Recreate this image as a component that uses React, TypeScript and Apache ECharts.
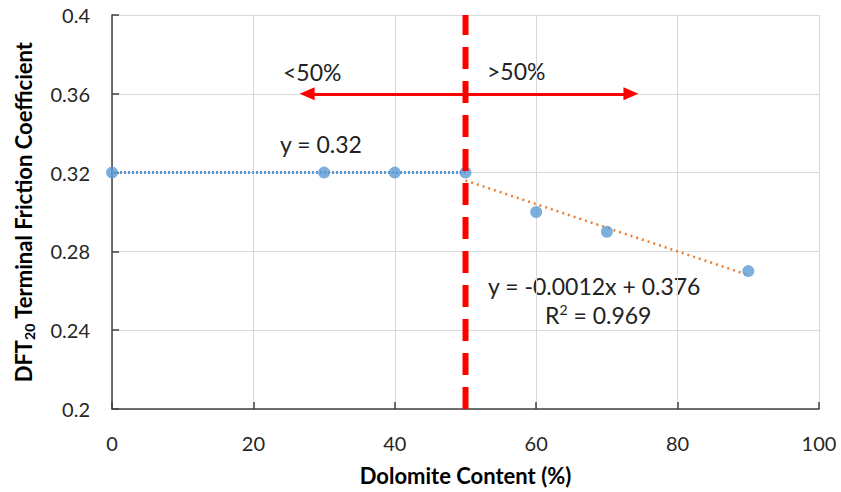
import React, { useEffect, useRef } from "react";
import * as echarts from "echarts";

const xValues = [0, 30, 40, 50, 60, 70, 90];
const yValues = [0.32, 0.32, 0.32, 0.32, 0.3, 0.29, 0.27];
const flatTrend = [[0, 0.32], [50, 0.32]];
const slopeTrend = [[50, 0.316], [90, 0.268]];
const dividerX = 50;
const arrowY = 0.36;
const arrowLeftEnd = 27.6;
const arrowRightEnd = 73.4;

const FONT = "Lato, 'Open Sans', sans-serif";

export default function App() {
  const ref = useRef<HTMLDivElement>(null);
  useEffect(() => {
    if (!ref.current) return;
    const chart = echarts.init(ref.current, null, { renderer: "svg" });
    chart.setOption({
      animation: false,
      backgroundColor: "#ffffff",
      grid: { left: 112, right: 22, top: 15, bottom: 83 },
      xAxis: {
        type: "value",
        min: 0,
        max: 100,
        interval: 20,
        name: "Dolomite Content (%)",
        nameLocation: "middle",
        nameGap: 55,
        nameTextStyle: { fontFamily: FONT, fontSize: 22, fontWeight: "bold", color: "#000" },
        axisLine: { show: true, lineStyle: { color: "#404040", width: 1.5 } },
        axisTick: { show: true, inside: true, length: 7, lineStyle: { color: "#404040", width: 1.5 } },
        axisLabel: { fontFamily: FONT, fontSize: 20, color: "#262626", margin: 24 },
        splitLine: { show: true, lineStyle: { color: "#d9d9d9", width: 1 } },
      },
      yAxis: {
        type: "value",
        min: 0.2,
        max: 0.4,
        interval: 0.04,
        name: "{n|DFT}{s|20}{n| Terminal Friction Coefficient}",
        nameLocation: "middle",
        nameRotate: 90,
        nameGap: 76,
        nameTextStyle: {
          rich: {
            n: { fontFamily: FONT, fontSize: 22, fontWeight: "bold", color: "#000", lineHeight: 26 },
            s: { fontFamily: FONT, fontSize: 14, fontWeight: "bold", color: "#000", lineHeight: 26, verticalAlign: "bottom", padding: [10, 0, 0, 0] },
          },
        },
        axisLine: { show: true, lineStyle: { color: "#404040", width: 1.5 } },
        axisTick: { show: true, inside: true, length: 7, lineStyle: { color: "#404040", width: 1.5 } },
        axisLabel: {
          fontFamily: FONT,
          fontSize: 20,
          color: "#262626",
          margin: 22,
          formatter: (v: number) => String(+v.toFixed(2)),
        },
        splitLine: { show: true, lineStyle: { color: "#d9d9d9", width: 1 } },
      },
      series: [
        {
          type: "line",
          data: flatTrend,
          symbol: "none",
          lineStyle: { color: "#5b9bd5", width: 3, type: [2, 2] },
          z: 3,
        },
        {
          type: "line",
          data: slopeTrend,
          symbol: "none",
          lineStyle: { color: "#ed7d31", width: 2.5, type: [2, 4] },
          z: 3,
        },
        {
          type: "line",
          data: [[dividerX, 0.2], [dividerX, 0.4]],
          symbol: "none",
          lineStyle: { color: "#ff0000", width: 6, type: [22, 12] },
          z: 5,
          markLine: {
            silent: true,
            symbol: ["none", "triangle"],
            symbolSize: [13, 15],
            label: { show: false },
            lineStyle: { color: "#ff0000", width: 3, type: "solid" },
            data: [
              [{ coord: [dividerX, arrowY], symbol: "none" }, { coord: [arrowLeftEnd, arrowY], symbol: "triangle" }],
              [{ coord: [dividerX, arrowY], symbol: "none" }, { coord: [arrowRightEnd, arrowY], symbol: "triangle" }],
            ],
          },
        },
        {
          type: "scatter",
          data: xValues.map((x, i) => [x, yValues[i]]),
          symbol: "circle",
          symbolSize: 12,
          itemStyle: { color: "#5b9bd5" },
          z: 4,
        },
      ],
      graphic: [
        { type: "text", left: 283, top: 60, style: { text: "<50%", font: `23px ${FONT}`, fill: "#222" } },
        { type: "text", left: 487, top: 59, style: { text: ">50%", font: `23px ${FONT}`, fill: "#222" } },
        { type: "text", left: 280, top: 132, style: { text: "y = 0.32", font: `23px ${FONT}`, fill: "#222" } },
        { type: "text", left: 488, top: 274, style: { text: "y = -0.0012x + 0.376", font: `23px ${FONT}`, fill: "#222" } },
        {
          type: "text",
          left: 545,
          top: 302,
          style: {
            text: "{a|R}{b|2}{a| = 0.969}",
            rich: {
              a: { font: `23px ${FONT}`, fill: "#222", lineHeight: 30 },
              b: { font: `14px ${FONT}`, fill: "#222", lineHeight: 30, padding: [0, 0, 12, 0] },
            },
          },
        },
      ],
    });
    return () => chart.dispose();
  }, []);
  return <div ref={ref} style={{ width: 841, height: 492, position: "absolute", left: 0, top: 0 }} />;
}
